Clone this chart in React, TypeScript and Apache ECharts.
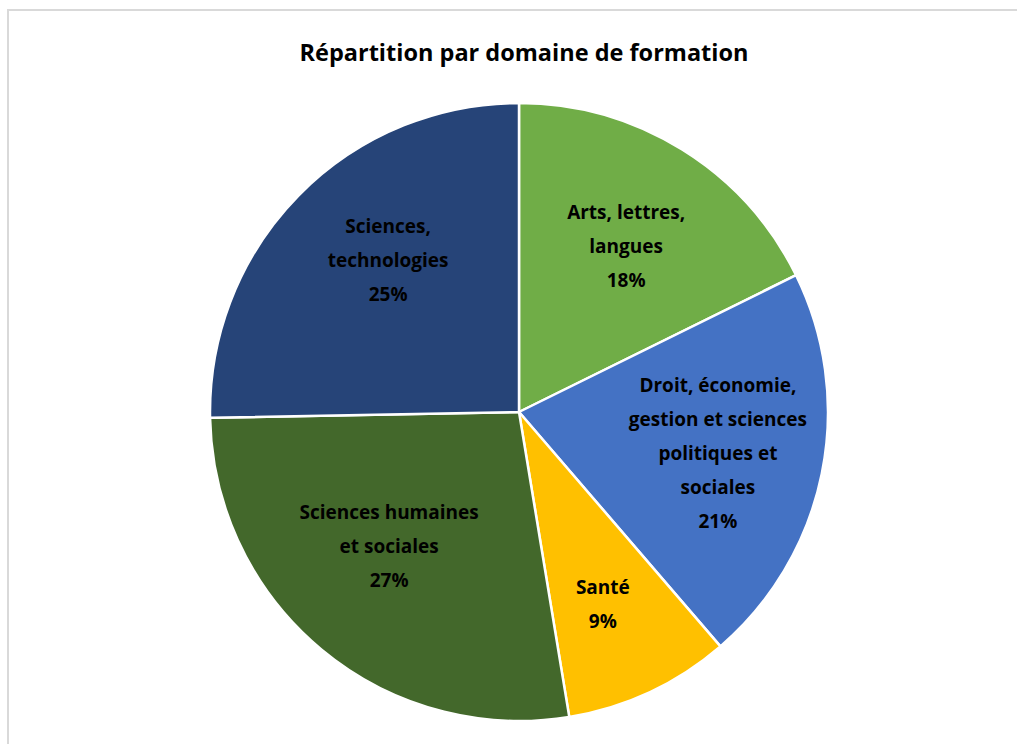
import React, { useEffect, useRef } from "react";
import * as echarts from "echarts";

const categories = [
  "Arts, lettres, langues",
  "Droit, économie, gestion et sciences politiques et sociales",
  "Santé",
  "Sciences humaines et sociales",
  "Sciences, technologies",
];
const labelLines = [
  "Arts, lettres,\nlangues",
  "Droit, économie,\ngestion et sciences\npolitiques et\nsociales",
  "Santé",
  "Sciences humaines\net sociales",
  "Sciences,\ntechnologies",
];
const shares = [17.7, 21.0, 8.7, 27.3, 25.3];
const colors = ["#70AD47", "#4472C4", "#FFC000", "#43682B", "#264478"];
const title = "Répartition par domaine de formation";

// small label nudges (style), to mimic the spreadsheet's label placement
const labelNudge = [
  [0, 6],
  [0, 0],
  [-2, 8],
  [0, -22],
  [14, -10],
];

export default function App() {
  const ref = useRef<HTMLDivElement>(null);
  useEffect(() => {
    document.body.style.margin = "0";
    const chart = echarts.init(ref.current!, null, { renderer: "svg" });
    const font = "'Open Sans', 'Noto Sans', sans-serif";
    const data = categories.map((c, i) => ({
      name: c,
      value: shares[i],
      itemStyle: { color: colors[i] },
    }));
    chart.setOption({
      animation: false,
      backgroundColor: "#ffffff",
      title: {
        text: title,
        left: 519,
        textAlign: "center",
        top: 35,
        textStyle: { fontFamily: font, fontSize: 23.5, fontWeight: "bold", color: "#000" },
      },
      graphic: [
        {
          type: "rect",
          shape: { x: 8, y: 10, width: 1100, height: 800 },
          style: { fill: "none", stroke: "#d9d9d9", lineWidth: 2 },
          silent: true,
        },
      ],
      series: [
        {
          type: "pie",
          center: [519, 412],
          radius: [0, 309],
          startAngle: 90,
          clockwise: true,
          silent: true,
          label: { show: false },
          labelLine: { show: false },
          itemStyle: { borderColor: "#ffffff", borderWidth: 2.5 },
          data,
        },
        {
          type: "pie",
          center: [519, 412],
          radius: [0, 400],
          startAngle: 90,
          clockwise: true,
          silent: true,
          z: 3,
          itemStyle: { color: "rgba(0,0,0,0)" },
          label: {
            show: true,
            position: "inside",
            fontFamily: font,
            fontSize: 19,
            fontWeight: "bold",
            color: "#000",
            lineHeight: 34,
            align: "center",
            formatter: (p: any) => `${labelLines[p.dataIndex]}\n${Math.round(p.percent)}%`,
          },
          labelLayout: (p: any) => ({
            dx: labelNudge[p.dataIndex][0],
            dy: labelNudge[p.dataIndex][1],
          }),
          labelLine: { show: false },
          data: categories.map((c, i) => ({
            name: c,
            value: shares[i],
            itemStyle: { color: "rgba(0,0,0,0)" },
          })),
        },
      ],
    });
    return () => chart.dispose();
  }, []);
  return <div ref={ref} style={{ width: 1017, height: 744 }} />;
}
